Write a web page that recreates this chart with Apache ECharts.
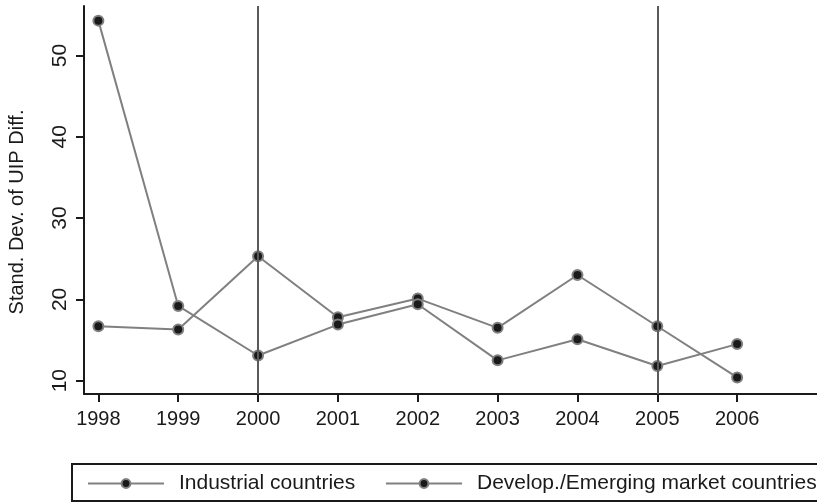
<!DOCTYPE html>
<html>
<head>
<meta charset="utf-8">
<script src="https://cdn.jsdelivr.net/npm/echarts@6/dist/echarts.min.js"></script>
<style>
  html, body { margin: 0; padding: 0; background: #fff; }
  #chart { width: 817px; height: 503px; }
</style>
</head>
<body>
<div id="chart"></div>
<script>
// Survey years
const years = [1998, 1999, 2000, 2001, 2002, 2003, 2004, 2005, 2006];
// Standard deviation of the UIP differential, by country group
const industrial = [16.7, 16.3, 25.3, 17.8, 20.1, 16.5, 23.0, 16.7, 10.4];
const emerging = [54.3, 19.2, 13.1, 16.9, 19.4, 12.5, 15.1, 11.8, 14.5];
// Reference years marked with vertical rules
const markerYears = [2000, 2005];
// Y axis tick values
const yTicks = [10, 20, 30, 40, 50];

const seriesNames = ['Industrial countries', 'Develop./Emerging market countries'];
const FONT = '"Liberation Sans", Arial, Helvetica, sans-serif';
const INK = '#1a1a1a';
const LINE = '#808080';

function pairs(vals) { return years.map((y, i) => [y, vals[i]]); }

function lineSeries(name, vals) {
  return {
    name: name,
    type: 'line',
    data: pairs(vals),
    z: 3,
    symbol: 'circle',
    symbolSize: 10,
    lineStyle: { color: LINE, width: 2 },
    itemStyle: { color: INK, borderColor: LINE, borderWidth: 2 },
    emphasis: { disabled: true }
  };
}

// One legend block per series so both sit on a single row
function legendBlock(name, left) {
  return {
    data: [name],
    left: left,
    top: 473,
    padding: 0,
    itemWidth: 76,
    itemHeight: 11,
    selectedMode: false,
    textStyle: { fontFamily: FONT, fontSize: 21, color: INK, padding: [0, 0, 0, 10] }
  };
}

const chart = echarts.init(document.getElementById('chart'), null, { renderer: 'canvas' });
chart.setOption({
  animation: false,
  backgroundColor: '#ffffff',
  textStyle: { fontFamily: FONT, color: INK },
  grid: { left: 84, right: 0, top: 6, bottom: 109 },
  xAxis: {
    type: 'value',
    min: 1997.82,
    max: 2007.0,
    splitLine: { show: false },
    axisLine: { show: true, onZero: false, lineStyle: { color: INK, width: 2 } },
    axisTick: { show: true, length: 8, customValues: years, lineStyle: { color: INK, width: 2 } },
    axisLabel: { customValues: years, fontFamily: FONT, fontSize: 20, color: INK, margin: 15, formatter: v => String(v) }
  },
  yAxis: {
    type: 'value',
    min: 8.36,
    max: 56.1,
    splitLine: { show: false },
    axisLine: { show: true, onZero: false, lineStyle: { color: INK, width: 2 } },
    axisTick: { show: true, length: 8, customValues: yTicks, lineStyle: { color: INK, width: 2 } },
    axisLabel: { customValues: yTicks, rotate: 90, fontFamily: FONT, fontSize: 21, color: INK, margin: 13 }
  },
  legend: [legendBlock(seriesNames[0], 87), legendBlock(seriesNames[1], 385)],
  graphic: [
    {
      type: 'rect',
      shape: { x: 72, y: 464, width: 780, height: 37 },
      style: { fill: 'none', stroke: INK, lineWidth: 2 },
      silent: true
    },
    {
      type: 'text',
      x: 17,
      y: 212,
      rotation: Math.PI / 2,
      style: {
        text: 'Stand. Dev. of UIP Diff.',
        font: '20px "Liberation Sans", Arial, sans-serif',
        fill: INK,
        align: 'center',
        verticalAlign: 'middle'
      },
      silent: true
    }
  ],
  series: [
    {
      type: 'line',
      data: [],
      z: 1,
      silent: true,
      markLine: {
        silent: true,
        symbol: 'none',
        label: { show: false },
        lineStyle: { color: '#5a5a5a', width: 2, type: 'solid' },
        data: markerYears.map(y => ({ xAxis: y }))
      }
    },
    lineSeries(seriesNames[0], industrial),
    lineSeries(seriesNames[1], emerging)
  ]
});
</script>
</body>
</html>
